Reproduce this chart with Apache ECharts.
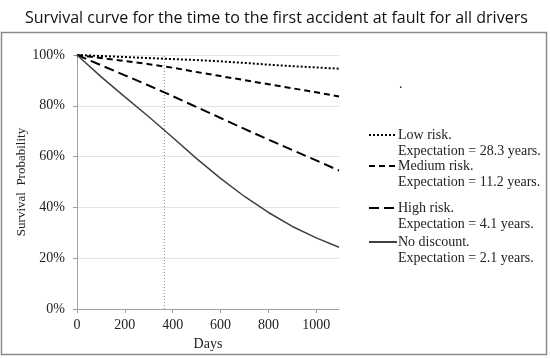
<!DOCTYPE html>
<html><head><meta charset="utf-8">
<script src="https://cdn.jsdelivr.net/npm/echarts@6/dist/echarts.min.js"></script>
<style>html,body{margin:0;padding:0;background:#fff}#c{width:550px;height:358px}</style>
</head><body><div id="c"></div>
<script>
const titleText = 'Survival curve for the time to the first accident at fault for all drivers';
const days = [0, 100, 200, 300, 400, 500, 600, 700, 800, 900, 1000, 1095];
const lowRisk    = [1.000, 0.996, 0.992, 0.988, 0.984, 0.980, 0.975, 0.969, 0.962, 0.956, 0.951, 0.946];
const mediumRisk = [1.000, 0.988, 0.976, 0.964, 0.950, 0.933, 0.917, 0.901, 0.885, 0.869, 0.853, 0.837];
const highRisk   = [1.000, 0.960, 0.920, 0.880, 0.838, 0.795, 0.752, 0.709, 0.667, 0.626, 0.585, 0.545];
const noDiscount = [1.000, 0.915, 0.835, 0.757, 0.675, 0.592, 0.514, 0.443, 0.380, 0.325, 0.280, 0.243];
const seriesNames = ['Low risk.', 'Medium risk.', 'High risk.', 'No discount.'];
const expectations = ['Expectation = 28.3 years.', 'Expectation = 11.2 years.', 'Expectation = 4.1 years.', 'Expectation = 2.1 years.'];
const refDay = 365;
const refLine = [[refDay, 0], [refDay, 1]];
const xTicks = [0, 200, 400, 600, 800, 1000];

const values = [lowRisk, mediumRisk, highRisk, noDiscount];
const styles = [
  {color: '#000', width: 2, type: [2, 2]},
  {color: '#000', width: 2, type: [6, 4]},
  {color: '#000', width: 2, type: [10, 5]},
  {color: '#404040', width: 1.5, type: 'solid'}
];
const legendTops = [111, 142, 184, 218];
const serif = '"Liberation Serif", "DejaVu Serif", serif';

const series = values.map((v, i) => ({
  name: seriesNames[i], type: 'line', smooth: false,
  symbol: 'none', showSymbol: false,
  data: days.map((d, j) => [d, v[j]]),
  lineStyle: styles[i], itemStyle: {color: styles[i].color}, z: 3
}));
series.push({
  name: 'ref', type: 'line', symbol: 'none', silent: true,
  data: refLine, lineStyle: {color: '#888', width: 1, type: [1, 2]}, z: 2
});

const legends = seriesNames.map((n, i) => ({
  data: [n], left: 368, top: legendTops[i], orient: 'vertical',
  itemWidth: 28, itemHeight: 10, itemGap: 0, padding: 0,
  itemStyle: {opacity: 0},
  lineStyle: {opacity: 1},
  formatter: () => '\n' + n + '\n' + expectations[i],
  textStyle: {fontFamily: serif, fontSize: 14, color: '#222', lineHeight: 16, padding: [0, 0, 0, -4]}
}));

const chart = echarts.init(document.getElementById('c'), null, {renderer: 'canvas'});
chart.setOption({
  animation: false,
  title: {text: titleText, left: 20, top: 5,
    textStyle: {fontFamily: '"Open Sans", "Liberation Sans", sans-serif', fontSize: 16, fontWeight: 'normal', color: '#111'}},
  legend: legends,
  grid: {left: 77, right: 211, top: 55, bottom: 49},
  xAxis: {
    type: 'value', min: 0, max: 1095, interval: 200,
    name: 'Days', nameLocation: 'middle', nameGap: 28,
    nameTextStyle: {fontFamily: serif, fontSize: 14, color: '#222', verticalAlign: 'top'},
    axisLine: {show: true, lineStyle: {color: '#a0a0a0', width: 1}},
    axisTick: {show: true, length: 4, lineStyle: {color: '#a0a0a0'}, customValues: xTicks},
    axisLabel: {fontFamily: serif, fontSize: 14, color: '#222', margin: 9,
      customValues: xTicks, formatter: v => String(v)},
    splitLine: {show: false}
  },
  yAxis: {
    type: 'value', min: 0, max: 1, interval: 0.2,
    name: 'Survival  Probability', nameLocation: 'middle', nameGap: 45,
    nameTextStyle: {fontFamily: serif, fontSize: 13, color: '#222'},
    axisLine: {show: true, lineStyle: {color: '#a0a0a0', width: 1}},
    axisTick: {show: true, length: 4, lineStyle: {color: '#a0a0a0'}},
    axisLabel: {fontFamily: serif, fontSize: 14, color: '#222', margin: 12,
      formatter: v => Math.round(v * 100) + '%'},
    splitLine: {show: true, lineStyle: {color: '#e3e3e3', width: 1}}
  },
  graphic: [
    {type: 'rect', shape: {x: 1.5, y: 32.5, width: 545, height: 322}, style: {fill: 'none', stroke: '#8a8a8a', lineWidth: 1.5}, silent: true},
    {type: 'text', left: 399, top: 77, style: {text: '.', font: '14px ' + serif, fill: '#222'}}
  ],
  series: series
});
</script></body></html>
